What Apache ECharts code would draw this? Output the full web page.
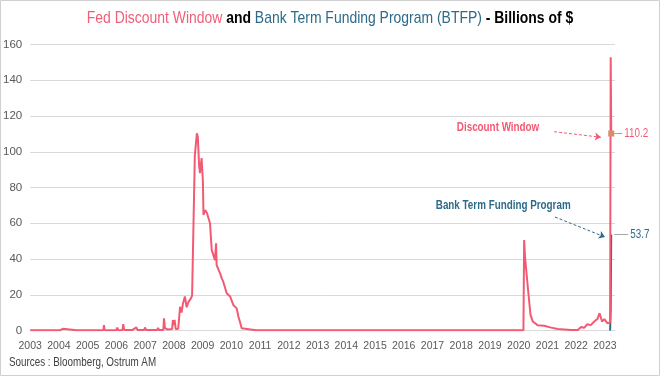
<!DOCTYPE html>
<html>
<head>
<meta charset="utf-8">
<script src="https://cdn.jsdelivr.net/npm/echarts@6/dist/echarts.min.js"></script>
<style>
  html, body { margin: 0; padding: 0; background: #fff; }
  #chart { width: 660px; height: 376px; }
</style>
</head>
<body>
<div id="chart"></div>
<script>
// Fed discount window, weekly-ish readings (billions $)
var dwDates = [
  '2003-01-01','2003-07-01','2004-01-20','2004-02-24','2004-03-10','2004-08-10','2004-08-16','2004-08-25',
  '2005-01-01','2005-07-20','2005-07-27','2005-08-05','2005-12-30','2006-01-12','2006-01-24','2006-03-20',
  '2006-03-29','2006-04-10','2006-07-25','2006-08-03','2006-08-15','2006-09-12','2006-09-25','2006-12-20',
  '2006-12-30','2007-01-12','2007-06-05','2007-06-14','2007-06-25','2007-08-20','2007-08-29','2007-09-08',
  '2007-10-01','2007-10-15','2007-12-10','2007-12-19','2007-12-30','2008-01-10','2008-01-25','2008-02-25',
  '2008-03-10','2008-03-20','2008-04-08','2008-04-25','2008-05-20','2008-06-12','2008-07-05','2008-08-05',
  '2008-08-20','2008-09-10','2008-09-24','2008-10-20','2008-10-28','2008-11-01','2008-11-17','2008-11-28',
  '2008-12-19','2009-01-05','2009-01-12','2009-02-03','2009-02-25','2009-03-15','2009-04-05','2009-04-27',
  '2009-05-12','2009-06-07','2009-06-21','2009-06-28','2009-07-20','2009-08-11','2009-09-02','2009-09-20',
  '2009-11-03','2009-12-17','2010-01-26','2010-03-10','2010-04-01','2010-04-20','2010-05-12','2010-06-02',
  '2010-11-10','2010-11-17','2010-11-25','2015-04-10','2015-04-20','2016-05-20','2016-05-28','2020-03-01',
  '2020-03-10','2020-03-20','2020-04-05','2020-05-05','2020-05-30','2020-06-28','2020-08-28','2020-11-20',
  '2021-02-17','2021-05-12','2021-10-27','2022-01-20','2022-03-05','2022-04-12','2022-05-22','2022-07-05',
  '2022-08-18','2022-09-27','2022-10-15','2022-10-25','2022-11-03','2022-11-25','2022-12-24','2023-02-03',
  '2023-02-25','2023-03-08','2023-03-15','2023-03-22'
];
var dwValues = [
  0.1, 0.1, 0.2, 1.0, 0.2, 0.2, 0.8, 0.2,
  0.2, 0.2, 3.0, 0.2, 0.2, 1.6, 0.2, 0.3,
  3.6, 0.3, 0.3, 1.0, 0.3, 1.7, 0.3, 0.3,
  1.7, 0.3, 0.3, 1.5, 0.3, 0.3, 6.8, 1.5,
  2.0, 0.5, 0.8, 5.9, 3.0, 5.9, 0.8, 1.0,
  8.0, 13.3, 10.0, 15.0, 19.0, 13.0, 16.0, 18.0,
  19.5, 20.0, 98.0, 110.3, 111.0, 108.4, 92.6, 88.0,
  96.5, 83.0, 64.6, 67.4, 65.7, 66.5, 60.0, 45.0,
  43.0, 39.4, 48.8, 36.6, 36.6, 32.0, 29.0, 27.3,
  20.8, 19.0, 14.3, 12.4, 7.7, 4.9, 1.2, 0.2,
  0.2, 0.9, 0.2, 0.2, 0.5, 0.2, 0.5, 0.1,
  50.6, 42.0, 34.0, 20.0, 8.7, 5.0, 3.0, 2.7,
  1.6, 0.8, 0.3, 0.3, 2.0, 1.5, 3.5, 3.0,
  5.0, 6.4, 5.5, 9.7, 8.7, 5.0, 6.4, 4.0,
  3.5, 4.6, 152.9, 110.2
];
// Bank Term Funding Program
var btfpDates = ['2023-03-08', '2023-03-15', '2023-03-22'];
var btfpValues = [0, 11.9, 53.7];

var yearTicks = [2003, 2023];
var yTicks = [0, 160, 20];

var pink = '#f25a74';
var teal = '#2e6b8a';
var font = '"Liberation Sans", Arial, sans-serif';
var squeeze = 0.82; // no Arial Narrow here, so squash Liberation Sans

function toYear(s) {
  var p = s.split('-').map(Number);
  var start = Date.UTC(p[0], 0, 1);
  var end = Date.UTC(p[0] + 1, 0, 1);
  return p[0] + (Date.UTC(p[0], p[1] - 1, p[2]) - start) / (end - start);
}
function pairs(dates, values) {
  return dates.map(function (d, i) { return [toYear(d), values[i]]; });
}

var dwData = pairs(dwDates, dwValues);
var btfpData = pairs(btfpDates, btfpValues);
var lastT = toYear(dwDates[dwDates.length - 1]);

var myChart = echarts.init(document.getElementById('chart'));
var option = {
  animation: false,
  grid: { left: 28, right: 45, top: 44.5, bottom: 45.5 },
  xAxis: {
    type: 'value',
    min: yearTicks[0],
    max: yearTicks[1] + 0.35,
    interval: 1,
    splitLine: { show: false },
    axisTick: { show: false },
    axisLine: { lineStyle: { color: '#d9d9d9' } },
    axisLabel: {
      color: '#595959', fontSize: 10.5, fontFamily: font, margin: 10,
      formatter: function (v) { return v % 1 === 0 ? String(v) : ''; }
    }
  },
  yAxis: {
    type: 'value',
    min: yTicks[0],
    max: yTicks[1],
    interval: yTicks[2],
    axisLine: { show: false },
    axisTick: { show: false },
    splitLine: { lineStyle: { color: '#d9d9d9' } },
    axisLabel: { color: '#595959', fontSize: 11.5, fontFamily: font, margin: 8 }
  },
  series: [
    {
      name: 'BTFP',
      type: 'line',
      data: btfpData,
      showSymbol: false,
      z: 2,
      lineStyle: { color: teal, width: 2 },
      itemStyle: { color: teal },
      markLine: {
        silent: true,
        symbol: ['none', 'arrow'],
        symbolSize: 6,
        label: { show: false },
        lineStyle: { color: teal, type: [3, 2], width: 1 },
        data: [[{ coord: [2021.26, 63.5] }, { coord: [2023.0, 52.3] }]]
      }
    },
    {
      name: 'Discount Window',
      type: 'line',
      data: dwData,
      showSymbol: false,
      z: 3,
      lineStyle: { color: pink, width: 2 },
      itemStyle: { color: pink },
      markLine: {
        silent: true,
        symbol: ['none', 'arrow'],
        symbolSize: 6,
        label: { show: false },
        lineStyle: { color: pink, type: [3, 2], width: 1 },
        data: [[{ coord: [2021.23, 111.2] }, { coord: [2022.86, 108.1] }]]
      },
      markPoint: {
        silent: true,
        data: [{
          coord: [lastT, 110.2], symbol: 'rect', symbolSize: 6,
          itemStyle: { color: '#d98b6b' },
          label: { show: false }
        }]
      }
    }
  ]
};
myChart.setOption(option);

// texts and value call-outs, placed through the grid's own scale
function px(pt) { return myChart.convertToPixel({ gridIndex: 0 }, pt); }
var pDw = px([lastT, 110.2]);
var pBt = px([lastT, btfpValues[btfpValues.length - 1]]);
var pDwTxt = px([2019.28, 113.5]);
var pBtTxt = px([2019.46, 69.7]);

function squeezedText(x, y, style) {
  return { type: 'text', silent: true, x: x, y: y, scaleX: squeeze, style: style };
}

myChart.setOption({
  graphic: [
    { type: 'rect', silent: true, shape: { x: 0.5, y: 0.5, width: 659, height: 375 },
      style: { fill: 'none', stroke: '#d0d0d0', lineWidth: 1 } },
    squeezedText(330, 18, {
      text: '{a|Fed Discount Window }{b|and }{c|Bank Term Funding Program (BTFP) }{b|- Billions of $}',
      align: 'center', verticalAlign: 'middle',
      rich: {
        a: { fill: '#ee6079', fontSize: 17, fontFamily: font },
        b: { fill: '#000', fontSize: 17, fontWeight: 'bold', fontFamily: font },
        c: { fill: teal, fontSize: 17, fontFamily: font }
      }
    }),
    squeezedText(pDwTxt[0], pDwTxt[1], {
      text: 'Discount Window', fill: pink, font: 'bold 12px ' + font,
      align: 'center', verticalAlign: 'middle'
    }),
    squeezedText(pBtTxt[0], pBtTxt[1], {
      text: 'Bank Term Funding Program', fill: teal, font: 'bold 12px ' + font,
      align: 'center', verticalAlign: 'middle'
    }),
    { type: 'line', silent: true, shape: { x1: pDw[0] + 3, y1: pDw[1], x2: pDw[0] + 11, y2: pDw[1] },
      style: { stroke: '#a6a6a6', lineWidth: 1 } },
    squeezedText(pDw[0] + 13, pDw[1], {
      text: '110.2', fill: pink, font: '12px ' + font, verticalAlign: 'middle'
    }),
    { type: 'line', silent: true, shape: { x1: pBt[0] + 3, y1: pBt[1], x2: pBt[0] + 17, y2: pBt[1] },
      style: { stroke: '#a6a6a6', lineWidth: 1 } },
    squeezedText(pBt[0] + 19, pBt[1], {
      text: '53.7', fill: teal, font: '12px ' + font, verticalAlign: 'middle'
    }),
    squeezedText(9, 363, {
      text: 'Sources : Bloomberg, Ostrum AM', fill: '#404040', font: '12px ' + font,
      verticalAlign: 'middle'
    })
  ]
});

window.onresize = myChart.resize;
</script>
</body>
</html>
